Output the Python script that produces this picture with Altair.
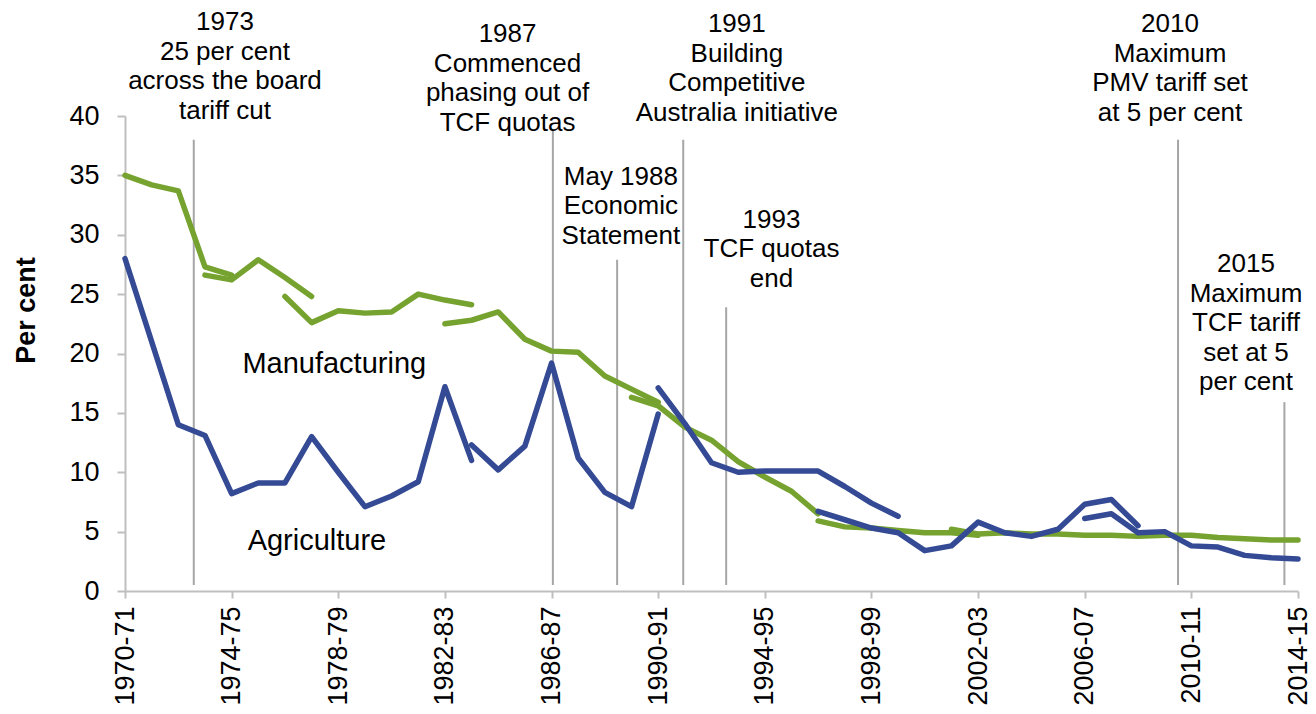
import altair as alt
import pandas as pd

# ---------------- data ----------------
years = ["1970-71", "1971-72", "1972-73", "1973-74", "1974-75", "1975-76", "1976-77",
         "1977-78", "1978-79", "1979-80", "1980-81", "1981-82", "1982-83", "1983-84",
         "1984-85", "1985-86", "1986-87", "1987-88", "1988-89", "1989-90", "1990-91",
         "1991-92", "1992-93", "1993-94", "1994-95", "1995-96", "1996-97", "1997-98",
         "1998-99", "1999-00", "2000-01", "2001-02", "2002-03", "2003-04", "2004-05",
         "2005-06", "2006-07", "2007-08", "2008-09", "2009-10", "2010-11", "2011-12",
         "2012-13", "2013-14", "2014-15"]

# each segment: (first year, values) - series has breaks / overlapping estimates
manu_segments = [
    ("1970-71", [35.0, 34.2, 33.7, 27.3, 26.6]),
    ("1973-74", [26.6, 26.2, 27.9, 26.4, 24.8]),
    ("1976-77", [24.8, 22.6, 23.6, 23.4, 23.5, 25.0, 24.5, 24.1]),
    ("1982-83", [22.5, 22.8, 23.5, 21.2, 20.2, 20.1, 18.1, 17.0, 15.9]),
    ("1989-90", [16.3, 15.6, 13.8, 12.7, 10.9, 9.6, 8.4, 6.5]),
    ("1996-97", [5.9, 5.4, 5.3, 5.1, 4.9, 4.9, 4.7]),
    ("2001-02", [5.2, 4.8, 4.9, 4.8, 4.8, 4.7, 4.7, 4.6, 4.7, 4.7, 4.5, 4.4, 4.3, 4.3]),
]
agri_segments = [
    ("1970-71", [28.0, 21.0, 14.0, 13.1, 8.2, 9.1, 9.1, 13.0, 10.0, 7.1, 8.0, 9.2, 17.2, 11.0]),
    ("1983-84", [12.3, 10.2, 12.2, 19.2, 11.2, 8.3, 7.1, 14.9]),
    ("1990-91", [17.1, 14.1, 10.8, 10.0, 10.1, 10.1, 10.1, 8.8, 7.4, 6.3]),
    ("1996-97", [6.7, 6.0, 5.3, 4.9, 3.4, 3.8, 5.8, 4.9, 4.6, 5.2, 7.3, 7.7, 5.5]),
    ("2006-07", [6.1, 6.5, 4.9, 5.0, 3.8, 3.7, 3.0, 2.8, 2.7]),
]

# policy event markers (x in year-index units, top of rule in per cent units)
event_x = [2.58, 16.05, 18.46, 20.94, 22.55, 39.5, 43.49]
event_top = [38.0, 38.8, 27.9, 38.0, 23.9, 38.0, 15.9]
event_bottom = [0.5] * 7

event_text = [
    "1973\n25 per cent\nacross the board\ntariff cut",
    "1987\nCommenced\nphasing out of\nTCF quotas",
    "May 1988\nEconomic\nStatement",
    "1991\nBuilding\nCompetitive\nAustralia initiative",
    "1993\nTCF quotas\nend",
    "2010\nMaximum\nPMV tariff set\nat 5 per cent",
    "2015\nMaximum\nTCF tariff\nset at 5\nper cent",
]
event_text_x = [3.75, 14.35, 18.6, 22.95, 24.25, 39.2, 42.05]
event_text_y = [49.0, 48.0, 35.96, 48.84, 32.34, 48.84, 28.63]

series_names = ["Manufacturing", "Agriculture"]
series_label_x = [7.85, 7.2]
series_label_y = [19.1, 4.2]

GREEN = "#76A22F"
BLUE = "#344A94"
GRAY = "#A6A6A6"
FONT = "Liberation Sans"

# ---------------- tables ----------------
def build(segments, name):
    rows = []
    for k, (start, vals) in enumerate(segments):
        s = years.index(start)
        for j, v in enumerate(vals):
            rows.append({"series": name, "seg": f"{name}{k}", "x": s + j, "y": v})
    return pd.DataFrame(rows)

manu_df = build(manu_segments, "Manufacturing")
agri_df = build(agri_segments, "Agriculture")
rules_df = pd.DataFrame({"x": event_x, "y": event_bottom, "y2": event_top})
text_df = pd.DataFrame({"x": event_text_x, "y": event_text_y, "label": event_text})
lab_df = pd.DataFrame({"x": series_label_x, "y": series_label_y, "label": series_names})

label_array = "[" + ",".join(f"'{y}'" for y in years) + "]"

xscale = alt.Scale(domain=[0, 44], nice=False, zero=False)
yscale = alt.Scale(domain=[0, 40], nice=False)

x_axis = alt.Axis(
    values=list(range(0, 45, 4)),
    labelExpr=f"{label_array}[datum.value]",
    labelAngle=270, labelAlign="right", labelBaseline="middle",
    labelFontSize=27, labelFont=FONT, labelColor="black", labelPadding=8,
    tickSize=7, grid=False, title=None, labelOverlap=False, labelBound=False,
    domainColor="#BFBFBF", tickColor="#BFBFBF", domainWidth=2, tickWidth=2,
)
y_axis = alt.Axis(
    values=list(range(0, 41, 5)),
    labelFontSize=27, labelFont=FONT, labelColor="black", labelPadding=18,
    tickSize=8, grid=False,
    title="Per cent", titleFont=FONT, titleFontSize=27, titleFontWeight="bold",
    titleColor="black", titleAngle=270, titleAlign="center", titleBaseline="middle",
    titleX=-99, titleY=194,
    domainColor="#BFBFBF", tickColor="#BFBFBF", domainWidth=2, tickWidth=2,
)

X = alt.X("x:Q", scale=xscale, axis=x_axis)
Y = alt.Y("y:Q", scale=yscale, axis=y_axis)

rules = alt.Chart(rules_df).mark_rule(color=GRAY, strokeWidth=2).encode(
    x=X, y=Y, y2="y2:Q",
)

def line_layer(df, color):
    return alt.Chart(df).mark_line(
        strokeWidth=5.5, strokeCap="round", strokeJoin="round", color=color
    ).encode(x=X, y=Y, detail="seg:N", order="x:Q")

manu = line_layer(manu_df, GREEN)
agri = line_layer(agri_df, BLUE)

texts = alt.Chart(text_df).mark_text(
    align="center", baseline="top", fontSize=26, lineHeight=29.5,
    font=FONT, color="black", lineBreak="\n"
).encode(x=X, y=Y, text="label:N")

labels = alt.Chart(lab_df).mark_text(
    align="center", baseline="middle", fontSize=29, font=FONT, color="black"
).encode(x=X, y=Y, text="label:N")

chart = alt.layer(rules, manu, agri, texts, labels).properties(
    width=1173, height=475,
    autosize=alt.AutoSizeParams(type="none"),
    padding={"left": 117, "top": 108, "right": 10, "bottom": 115},
).configure_view(stroke=None)

chart.save("out.html", embed_options={"renderer": "svg", "actions": False})
